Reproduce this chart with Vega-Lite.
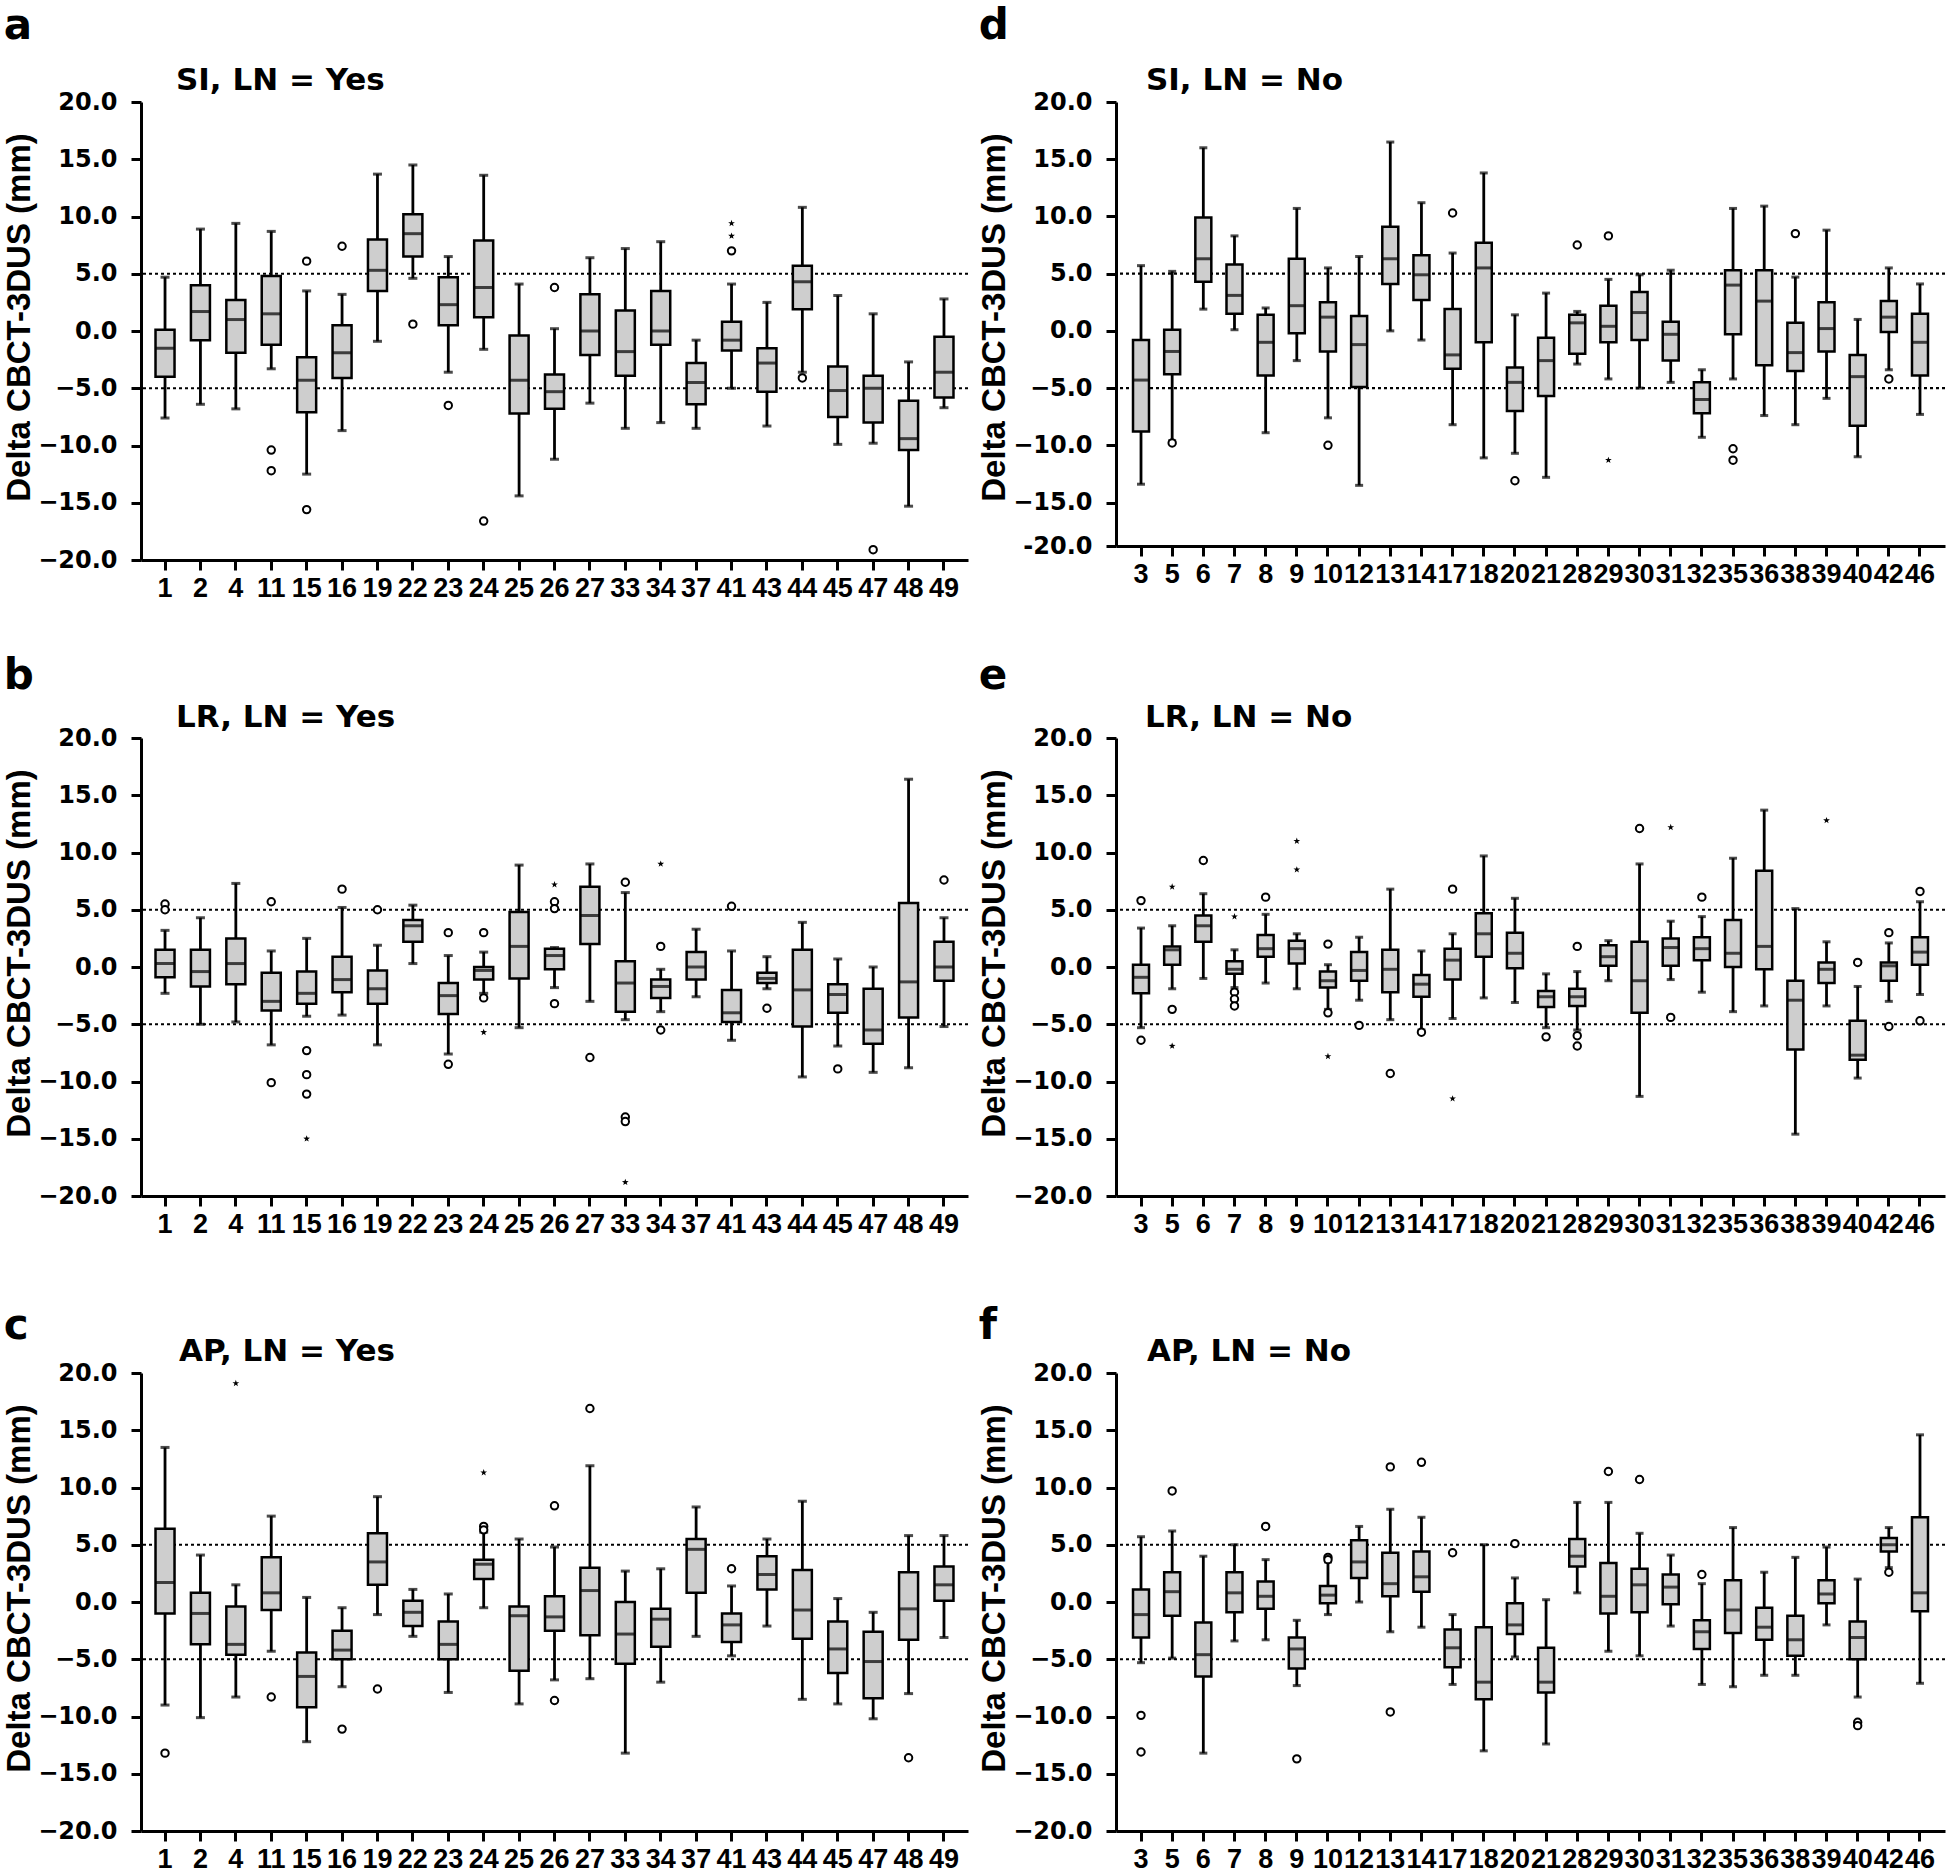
{
"$schema": "https://vega.github.io/schema/vega-lite/v6.json",
"padding": {"left": 3, "top": 5, "right": 0, "bottom": 0},
"datasets": {
"ref": [{"r": 5}, {"r": -5}],
"box": [
{"p":"a","s":1,"lo":-7.6,"q1":-4.0,"md":-1.5,"q3":0.1,"hi":4.7},
{"p":"a","s":2,"lo":-6.4,"q1":-0.8,"md":1.7,"q3":4.0,"hi":8.9},
{"p":"a","s":4,"lo":-6.8,"q1":-1.9,"md":1.0,"q3":2.7,"hi":9.4},
{"p":"a","s":11,"lo":-3.3,"q1":-1.2,"md":1.5,"q3":4.8,"hi":8.7},
{"p":"a","s":15,"lo":-12.5,"q1":-7.1,"md":-4.3,"q3":-2.3,"hi":3.5},
{"p":"a","s":16,"lo":-8.7,"q1":-4.1,"md":-1.9,"q3":0.5,"hi":3.2},
{"p":"a","s":19,"lo":-0.9,"q1":3.5,"md":5.3,"q3":8.0,"hi":13.7},
{"p":"a","s":22,"lo":4.6,"q1":6.5,"md":8.5,"q3":10.2,"hi":14.5},
{"p":"a","s":23,"lo":-3.6,"q1":0.5,"md":2.3,"q3":4.7,"hi":6.5},
{"p":"a","s":24,"lo":-1.6,"q1":1.2,"md":3.8,"q3":7.9,"hi":13.6},
{"p":"a","s":25,"lo":-14.4,"q1":-7.2,"md":-4.3,"q3":-0.4,"hi":4.1},
{"p":"a","s":26,"lo":-11.2,"q1":-6.8,"md":-5.3,"q3":-3.8,"hi":0.2},
{"p":"a","s":27,"lo":-6.3,"q1":-2.1,"md":0.0,"q3":3.2,"hi":6.4},
{"p":"a","s":33,"lo":-8.5,"q1":-3.9,"md":-1.8,"q3":1.8,"hi":7.2},
{"p":"a","s":34,"lo":-8.0,"q1":-1.2,"md":0.0,"q3":3.5,"hi":7.8},
{"p":"a","s":37,"lo":-8.5,"q1":-6.4,"md":-4.5,"q3":-2.8,"hi":-0.8},
{"p":"a","s":41,"lo":-5.0,"q1":-1.7,"md":-0.8,"q3":0.8,"hi":4.1},
{"p":"a","s":43,"lo":-8.3,"q1":-5.3,"md":-2.8,"q3":-1.5,"hi":2.5},
{"p":"a","s":44,"lo":-3.6,"q1":1.9,"md":4.3,"q3":5.7,"hi":10.8},
{"p":"a","s":45,"lo":-9.9,"q1":-7.5,"md":-5.2,"q3":-3.1,"hi":3.1},
{"p":"a","s":47,"lo":-9.8,"q1":-8.0,"md":-5.0,"q3":-3.9,"hi":1.5},
{"p":"a","s":48,"lo":-15.3,"q1":-10.4,"md":-9.4,"q3":-6.1,"hi":-2.7},
{"p":"a","s":49,"lo":-6.7,"q1":-5.8,"md":-3.6,"q3":-0.5,"hi":2.8},
{"p":"b","s":1,"lo":-2.3,"q1":-0.9,"md":0.3,"q3":1.5,"hi":3.2},
{"p":"b","s":2,"lo":-5.0,"q1":-1.7,"md":-0.4,"q3":1.5,"hi":4.3},
{"p":"b","s":4,"lo":-4.8,"q1":-1.5,"md":0.3,"q3":2.5,"hi":7.3},
{"p":"b","s":11,"lo":-6.8,"q1":-3.8,"md":-3.0,"q3":-0.5,"hi":1.4},
{"p":"b","s":15,"lo":-4.3,"q1":-3.2,"md":-2.3,"q3":-0.4,"hi":2.5},
{"p":"b","s":16,"lo":-4.2,"q1":-2.2,"md":-1.1,"q3":0.9,"hi":5.2},
{"p":"b","s":19,"lo":-6.8,"q1":-3.2,"md":-1.9,"q3":-0.3,"hi":1.9},
{"p":"b","s":22,"lo":0.3,"q1":2.2,"md":3.6,"q3":4.1,"hi":5.4},
{"p":"b","s":23,"lo":-7.6,"q1":-4.1,"md":-2.5,"q3":-1.4,"hi":1.0},
{"p":"b","s":24,"lo":-2.3,"q1":-1.1,"md":-0.3,"q3":0.0,"hi":1.3},
{"p":"b","s":25,"lo":-5.3,"q1":-1.0,"md":1.8,"q3":4.8,"hi":8.9},
{"p":"b","s":26,"lo":-1.8,"q1":-0.2,"md":1.0,"q3":1.6,"hi":1.7},
{"p":"b","s":27,"lo":-3.0,"q1":2.0,"md":4.5,"q3":7.0,"hi":9.0},
{"p":"b","s":33,"lo":-4.6,"q1":-3.9,"md":-1.4,"q3":0.5,"hi":6.5},
{"p":"b","s":34,"lo":-3.9,"q1":-2.7,"md":-1.7,"q3":-1.1,"hi":-0.2},
{"p":"b","s":37,"lo":-2.6,"q1":-1.1,"md":0.0,"q3":1.3,"hi":3.3},
{"p":"b","s":41,"lo":-6.4,"q1":-4.8,"md":-4.0,"q3":-2.0,"hi":1.4},
{"p":"b","s":43,"lo":-1.9,"q1":-1.4,"md":-1.0,"q3":-0.5,"hi":0.9},
{"p":"b","s":44,"lo":-9.6,"q1":-5.2,"md":-2.0,"q3":1.5,"hi":3.9},
{"p":"b","s":45,"lo":-6.9,"q1":-4.0,"md":-2.4,"q3":-1.5,"hi":0.7},
{"p":"b","s":47,"lo":-9.2,"q1":-6.7,"md":-5.5,"q3":-1.9,"hi":0.0},
{"p":"b","s":48,"lo":-8.8,"q1":-4.4,"md":-1.3,"q3":5.6,"hi":16.4},
{"p":"b","s":49,"lo":-5.2,"q1":-1.2,"md":0.0,"q3":2.2,"hi":4.3},
{"p":"c","s":1,"lo":-9.0,"q1":-1.0,"md":1.7,"q3":6.4,"hi":13.5},
{"p":"c","s":2,"lo":-10.1,"q1":-3.7,"md":-1.0,"q3":0.8,"hi":4.1},
{"p":"c","s":4,"lo":-8.3,"q1":-4.6,"md":-3.7,"q3":-0.4,"hi":1.5},
{"p":"c","s":11,"lo":-4.3,"q1":-0.7,"md":0.8,"q3":3.9,"hi":7.5},
{"p":"c","s":15,"lo":-12.2,"q1":-9.2,"md":-6.5,"q3":-4.4,"hi":0.4},
{"p":"c","s":16,"lo":-7.4,"q1":-5.0,"md":-4.2,"q3":-2.5,"hi":-0.5},
{"p":"c","s":19,"lo":-1.1,"q1":1.5,"md":3.5,"q3":6.0,"hi":9.2},
{"p":"c","s":22,"lo":-3.0,"q1":-2.1,"md":-0.9,"q3":0.1,"hi":1.1},
{"p":"c","s":23,"lo":-7.9,"q1":-5.0,"md":-3.7,"q3":-1.7,"hi":0.7},
{"p":"c","s":24,"lo":-0.5,"q1":2.0,"md":3.3,"q3":3.7,"hi":6.1},
{"p":"c","s":25,"lo":-8.9,"q1":-6.0,"md":-1.2,"q3":-0.4,"hi":5.5},
{"p":"c","s":26,"lo":-6.8,"q1":-2.5,"md":-1.3,"q3":0.5,"hi":4.8},
{"p":"c","s":27,"lo":-6.7,"q1":-2.9,"md":1.0,"q3":3.0,"hi":11.9},
{"p":"c","s":33,"lo":-13.2,"q1":-5.4,"md":-2.8,"q3":0.0,"hi":2.7},
{"p":"c","s":34,"lo":-7.0,"q1":-3.9,"md":-1.5,"q3":-0.6,"hi":2.9},
{"p":"c","s":37,"lo":-3.0,"q1":0.8,"md":4.6,"q3":5.5,"hi":8.3},
{"p":"c","s":41,"lo":-4.7,"q1":-3.5,"md":-2.0,"q3":-1.0,"hi":1.4},
{"p":"c","s":43,"lo":-2.1,"q1":1.1,"md":2.4,"q3":4.0,"hi":5.5},
{"p":"c","s":44,"lo":-8.5,"q1":-3.2,"md":-0.7,"q3":2.8,"hi":8.8},
{"p":"c","s":45,"lo":-8.9,"q1":-6.2,"md":-4.1,"q3":-1.7,"hi":0.3},
{"p":"c","s":47,"lo":-10.2,"q1":-8.4,"md":-5.2,"q3":-2.6,"hi":-0.9},
{"p":"c","s":48,"lo":-8.0,"q1":-3.3,"md":-0.6,"q3":2.6,"hi":5.8},
{"p":"c","s":49,"lo":-3.1,"q1":0.1,"md":1.5,"q3":3.1,"hi":5.8},
{"p":"d","s":3,"lo":-13.4,"q1":-8.8,"md":-4.3,"q3":-0.8,"hi":5.7},
{"p":"d","s":5,"lo":-9.6,"q1":-3.8,"md":-1.8,"q3":0.1,"hi":5.2},
{"p":"d","s":6,"lo":1.9,"q1":4.3,"md":6.3,"q3":9.9,"hi":16.0},
{"p":"d","s":7,"lo":0.1,"q1":1.5,"md":3.1,"q3":5.8,"hi":8.3},
{"p":"d","s":8,"lo":-8.9,"q1":-3.9,"md":-1.0,"q3":1.4,"hi":2.0},
{"p":"d","s":9,"lo":-2.6,"q1":-0.2,"md":2.2,"q3":6.3,"hi":10.7},
{"p":"d","s":10,"lo":-7.6,"q1":-1.8,"md":1.2,"q3":2.5,"hi":5.5},
{"p":"d","s":12,"lo":-13.5,"q1":-4.9,"md":-1.2,"q3":1.3,"hi":6.5},
{"p":"d","s":13,"lo":0.0,"q1":4.1,"md":6.3,"q3":9.1,"hi":16.5},
{"p":"d","s":14,"lo":-0.8,"q1":2.7,"md":4.9,"q3":6.6,"hi":11.2},
{"p":"d","s":17,"lo":-8.2,"q1":-3.3,"md":-2.1,"q3":1.9,"hi":6.8},
{"p":"d","s":18,"lo":-11.1,"q1":-1.0,"md":5.5,"q3":7.7,"hi":13.8},
{"p":"d","s":20,"lo":-10.7,"q1":-7.0,"md":-4.5,"q3":-3.2,"hi":1.4},
{"p":"d","s":21,"lo":-12.8,"q1":-5.7,"md":-2.6,"q3":-0.6,"hi":3.3},
{"p":"d","s":28,"lo":-2.9,"q1":-2.0,"md":0.7,"q3":1.4,"hi":1.7},
{"p":"d","s":29,"lo":-4.2,"q1":-1.0,"md":0.4,"q3":2.2,"hi":4.5},
{"p":"d","s":30,"lo":-5.0,"q1":-0.8,"md":1.6,"q3":3.4,"hi":4.9},
{"p":"d","s":31,"lo":-4.5,"q1":-2.6,"md":-0.3,"q3":0.8,"hi":5.3},
{"p":"d","s":32,"lo":-9.3,"q1":-7.2,"md":-6.0,"q3":-4.5,"hi":-3.4},
{"p":"d","s":35,"lo":-4.2,"q1":-0.3,"md":4.0,"q3":5.3,"hi":10.7},
{"p":"d","s":36,"lo":-7.4,"q1":-3.0,"md":2.6,"q3":5.3,"hi":10.9},
{"p":"d","s":38,"lo":-8.2,"q1":-3.5,"md":-1.9,"q3":0.7,"hi":4.7},
{"p":"d","s":39,"lo":-5.9,"q1":-1.8,"md":0.2,"q3":2.5,"hi":8.8},
{"p":"d","s":40,"lo":-11.0,"q1":-8.3,"md":-4.0,"q3":-2.1,"hi":1.0},
{"p":"d","s":42,"lo":-3.4,"q1":-0.1,"md":1.2,"q3":2.6,"hi":5.5},
{"p":"d","s":46,"lo":-7.3,"q1":-3.9,"md":-1.0,"q3":1.5,"hi":4.1},
{"p":"e","s":3,"lo":-5.3,"q1":-2.3,"md":-0.9,"q3":0.2,"hi":3.4},
{"p":"e","s":5,"lo":-1.9,"q1":0.2,"md":1.5,"q3":1.8,"hi":3.6},
{"p":"e","s":6,"lo":-1.0,"q1":2.2,"md":3.6,"q3":4.5,"hi":6.4},
{"p":"e","s":7,"lo":-1.8,"q1":-0.6,"md":-0.2,"q3":0.5,"hi":1.5},
{"p":"e","s":8,"lo":-1.4,"q1":0.9,"md":1.6,"q3":2.8,"hi":4.6},
{"p":"e","s":9,"lo":-1.9,"q1":0.3,"md":1.6,"q3":2.3,"hi":2.9},
{"p":"e","s":10,"lo":-3.7,"q1":-1.8,"md":-1.2,"q3":-0.4,"hi":0.2},
{"p":"e","s":12,"lo":-2.9,"q1":-1.2,"md":-0.3,"q3":1.3,"hi":2.6},
{"p":"e","s":13,"lo":-4.6,"q1":-2.2,"md":-0.2,"q3":1.5,"hi":6.8},
{"p":"e","s":14,"lo":-5.5,"q1":-2.6,"md":-1.5,"q3":-0.7,"hi":1.4},
{"p":"e","s":17,"lo":-4.5,"q1":-1.1,"md":0.6,"q3":1.6,"hi":2.9},
{"p":"e","s":18,"lo":-2.7,"q1":0.9,"md":2.9,"q3":4.7,"hi":9.7},
{"p":"e","s":20,"lo":-3.1,"q1":-0.1,"md":1.2,"q3":3.0,"hi":6.0},
{"p":"e","s":21,"lo":-5.3,"q1":-3.5,"md":-2.6,"q3":-2.1,"hi":-0.6},
{"p":"e","s":28,"lo":-5.5,"q1":-3.4,"md":-2.6,"q3":-1.9,"hi":-0.4},
{"p":"e","s":29,"lo":-1.2,"q1":0.1,"md":0.9,"q3":1.9,"hi":2.3},
{"p":"e","s":30,"lo":-11.3,"q1":-4.0,"md":-1.2,"q3":2.2,"hi":9.0},
{"p":"e","s":31,"lo":-1.1,"q1":0.1,"md":1.7,"q3":2.5,"hi":4.0},
{"p":"e","s":32,"lo":-2.2,"q1":0.6,"md":1.6,"q3":2.6,"hi":4.4},
{"p":"e","s":35,"lo":-3.9,"q1":0.0,"md":1.2,"q3":4.1,"hi":9.5},
{"p":"e","s":36,"lo":-3.4,"q1":-0.2,"md":1.8,"q3":8.4,"hi":13.7},
{"p":"e","s":38,"lo":-14.6,"q1":-7.2,"md":-2.9,"q3":-1.2,"hi":5.1},
{"p":"e","s":39,"lo":-3.4,"q1":-1.4,"md":-0.2,"q3":0.4,"hi":2.2},
{"p":"e","s":40,"lo":-9.7,"q1":-8.1,"md":-7.7,"q3":-4.7,"hi":-1.7},
{"p":"e","s":42,"lo":-3.0,"q1":-1.2,"md":0.1,"q3":0.4,"hi":2.1},
{"p":"e","s":46,"lo":-2.4,"q1":0.2,"md":1.3,"q3":2.6,"hi":5.7},
{"p":"f","s":3,"lo":-5.3,"q1":-3.1,"md":-1.1,"q3":1.1,"hi":5.7},
{"p":"f","s":5,"lo":-4.9,"q1":-1.2,"md":0.9,"q3":2.6,"hi":6.2},
{"p":"f","s":6,"lo":-13.2,"q1":-6.5,"md":-4.6,"q3":-1.8,"hi":4.0},
{"p":"f","s":7,"lo":-3.4,"q1":-0.9,"md":0.8,"q3":2.6,"hi":5.0},
{"p":"f","s":8,"lo":-3.3,"q1":-0.6,"md":0.5,"q3":1.8,"hi":3.7},
{"p":"f","s":9,"lo":-7.3,"q1":-5.8,"md":-4.1,"q3":-3.1,"hi":-1.6},
{"p":"f","s":10,"lo":-1.1,"q1":-0.1,"md":0.6,"q3":1.4,"hi":3.5},
{"p":"f","s":12,"lo":0.0,"q1":2.1,"md":3.5,"q3":5.4,"hi":6.6},
{"p":"f","s":13,"lo":-2.6,"q1":0.5,"md":1.6,"q3":4.3,"hi":8.1},
{"p":"f","s":14,"lo":-2.2,"q1":0.9,"md":2.2,"q3":4.4,"hi":7.4},
{"p":"f","s":17,"lo":-7.2,"q1":-5.7,"md":-4.0,"q3":-2.4,"hi":-1.1},
{"p":"f","s":18,"lo":-13.0,"q1":-8.5,"md":-7.0,"q3":-2.2,"hi":5.0},
{"p":"f","s":20,"lo":-4.8,"q1":-2.8,"md":-2.0,"q3":-0.1,"hi":2.1},
{"p":"f","s":21,"lo":-12.4,"q1":-7.9,"md":-7.0,"q3":-4.0,"hi":0.2},
{"p":"f","s":28,"lo":0.8,"q1":3.1,"md":4.0,"q3":5.5,"hi":8.7},
{"p":"f","s":29,"lo":-4.3,"q1":-1.0,"md":0.5,"q3":3.4,"hi":8.7},
{"p":"f","s":30,"lo":-4.7,"q1":-0.9,"md":1.5,"q3":2.9,"hi":6.0},
{"p":"f","s":31,"lo":-2.1,"q1":-0.2,"md":1.3,"q3":2.4,"hi":4.1},
{"p":"f","s":32,"lo":-7.2,"q1":-4.1,"md":-2.6,"q3":-1.6,"hi":1.6},
{"p":"f","s":35,"lo":-7.4,"q1":-2.7,"md":-0.7,"q3":1.9,"hi":6.5},
{"p":"f","s":36,"lo":-6.4,"q1":-3.3,"md":-2.2,"q3":-0.5,"hi":2.6},
{"p":"f","s":38,"lo":-6.4,"q1":-4.7,"md":-3.3,"q3":-1.2,"hi":3.9},
{"p":"f","s":39,"lo":-2.0,"q1":-0.1,"md":0.7,"q3":1.9,"hi":4.8},
{"p":"f","s":40,"lo":-8.3,"q1":-5.0,"md":-3.1,"q3":-1.7,"hi":2.0},
{"p":"f","s":42,"lo":3.0,"q1":4.4,"md":5.0,"q3":5.6,"hi":6.5},
{"p":"f","s":46,"lo":-7.1,"q1":-0.8,"md":0.8,"q3":7.4,"hi":14.6}
],
"out": [
{"p":"a","s":11,"v":-10.4,"k":"o"},{"p":"a","s":11,"v":-12.2,"k":"o"},
{"p":"a","s":15,"v":6.1,"k":"o"},{"p":"a","s":15,"v":-15.6,"k":"o"},
{"p":"a","s":16,"v":7.4,"k":"o"},{"p":"a","s":22,"v":0.6,"k":"o"},
{"p":"a","s":23,"v":-6.5,"k":"o"},{"p":"a","s":24,"v":-16.6,"k":"o"},
{"p":"a","s":26,"v":3.8,"k":"o"},{"p":"a","s":41,"v":7.0,"k":"o"},
{"p":"a","s":41,"v":8.3,"k":"s"},{"p":"a","s":41,"v":9.4,"k":"s"},
{"p":"a","s":44,"v":-4.1,"k":"o"},{"p":"a","s":47,"v":-19.1,"k":"o"},
{"p":"b","s":1,"v":5.5,"k":"o"},{"p":"b","s":1,"v":5.0,"k":"o"},
{"p":"b","s":11,"v":5.7,"k":"o"},{"p":"b","s":11,"v":-10.1,"k":"o"},
{"p":"b","s":15,"v":-7.3,"k":"o"},{"p":"b","s":15,"v":-9.4,"k":"o"},{"p":"b","s":15,"v":-11.1,"k":"o"},{"p":"b","s":15,"v":-15.0,"k":"s"},
{"p":"b","s":16,"v":6.8,"k":"o"},{"p":"b","s":19,"v":5.0,"k":"o"},
{"p":"b","s":23,"v":3.0,"k":"o"},{"p":"b","s":23,"v":-8.5,"k":"o"},
{"p":"b","s":24,"v":3.0,"k":"o"},{"p":"b","s":24,"v":-2.7,"k":"o"},{"p":"b","s":24,"v":-5.7,"k":"s"},
{"p":"b","s":26,"v":7.2,"k":"s"},{"p":"b","s":26,"v":5.7,"k":"o"},{"p":"b","s":26,"v":5.1,"k":"o"},{"p":"b","s":26,"v":-3.2,"k":"o"},
{"p":"b","s":27,"v":-7.9,"k":"o"},
{"p":"b","s":33,"v":7.4,"k":"o"},{"p":"b","s":33,"v":-13.1,"k":"o"},{"p":"b","s":33,"v":-13.5,"k":"o"},{"p":"b","s":33,"v":-18.8,"k":"s"},
{"p":"b","s":34,"v":9.0,"k":"s"},{"p":"b","s":34,"v":1.8,"k":"o"},{"p":"b","s":34,"v":-5.5,"k":"o"},
{"p":"b","s":41,"v":5.3,"k":"o"},{"p":"b","s":43,"v":-3.6,"k":"o"},
{"p":"b","s":45,"v":-8.9,"k":"o"},{"p":"b","s":49,"v":7.6,"k":"o"},
{"p":"c","s":1,"v":-13.2,"k":"o"},{"p":"c","s":4,"v":19.1,"k":"s"},
{"p":"c","s":11,"v":-8.3,"k":"o"},{"p":"c","s":16,"v":-11.1,"k":"o"},
{"p":"c","s":19,"v":-7.6,"k":"o"},
{"p":"c","s":24,"v":6.6,"k":"o"},{"p":"c","s":24,"v":6.3,"k":"o"},{"p":"c","s":24,"v":11.3,"k":"s"},
{"p":"c","s":26,"v":8.4,"k":"o"},{"p":"c","s":26,"v":-8.6,"k":"o"},
{"p":"c","s":27,"v":16.9,"k":"o"},{"p":"c","s":41,"v":2.9,"k":"o"},
{"p":"c","s":48,"v":-13.6,"k":"o"},
{"p":"d","s":5,"v":-9.8,"k":"o"},{"p":"d","s":10,"v":-10.0,"k":"o"},
{"p":"d","s":17,"v":10.3,"k":"o"},{"p":"d","s":20,"v":-13.1,"k":"o"},
{"p":"d","s":28,"v":7.5,"k":"o"},{"p":"d","s":29,"v":8.3,"k":"o"},{"p":"d","s":29,"v":-11.3,"k":"s"},
{"p":"d","s":35,"v":-10.3,"k":"o"},{"p":"d","s":35,"v":-11.3,"k":"o"},
{"p":"d","s":38,"v":8.5,"k":"o"},{"p":"d","s":42,"v":-4.2,"k":"o"},
{"p":"e","s":3,"v":5.8,"k":"o"},{"p":"e","s":3,"v":-6.4,"k":"o"},
{"p":"e","s":5,"v":7.0,"k":"s"},{"p":"e","s":5,"v":-6.9,"k":"s"},{"p":"e","s":5,"v":-3.7,"k":"o"},
{"p":"e","s":6,"v":9.3,"k":"o"},
{"p":"e","s":7,"v":-2.2,"k":"o"},{"p":"e","s":7,"v":-2.8,"k":"o"},{"p":"e","s":7,"v":-3.4,"k":"o"},{"p":"e","s":7,"v":4.4,"k":"s"},
{"p":"e","s":8,"v":6.1,"k":"o"},
{"p":"e","s":9,"v":11.0,"k":"s"},{"p":"e","s":9,"v":8.5,"k":"s"},
{"p":"e","s":10,"v":2.0,"k":"o"},{"p":"e","s":10,"v":-4.0,"k":"o"},{"p":"e","s":10,"v":-7.8,"k":"s"},
{"p":"e","s":12,"v":-5.1,"k":"o"},{"p":"e","s":13,"v":-9.3,"k":"o"},
{"p":"e","s":14,"v":-5.7,"k":"o"},
{"p":"e","s":17,"v":6.8,"k":"o"},{"p":"e","s":17,"v":-11.5,"k":"s"},
{"p":"e","s":21,"v":-6.1,"k":"o"},
{"p":"e","s":28,"v":1.8,"k":"o"},{"p":"e","s":28,"v":-6.0,"k":"o"},{"p":"e","s":28,"v":-6.9,"k":"o"},
{"p":"e","s":30,"v":12.1,"k":"o"},
{"p":"e","s":31,"v":12.2,"k":"s"},{"p":"e","s":31,"v":-4.4,"k":"o"},
{"p":"e","s":32,"v":6.1,"k":"o"},{"p":"e","s":39,"v":12.8,"k":"s"},
{"p":"e","s":40,"v":0.4,"k":"o"},
{"p":"e","s":42,"v":3.0,"k":"o"},{"p":"e","s":42,"v":-5.2,"k":"o"},
{"p":"e","s":46,"v":6.6,"k":"o"},{"p":"e","s":46,"v":-4.7,"k":"o"},
{"p":"f","s":3,"v":-9.9,"k":"o"},{"p":"f","s":3,"v":-13.1,"k":"o"},
{"p":"f","s":5,"v":9.7,"k":"o"},{"p":"f","s":8,"v":6.6,"k":"o"},
{"p":"f","s":9,"v":-13.7,"k":"o"},
{"p":"f","s":10,"v":3.9,"k":"o"},{"p":"f","s":10,"v":3.7,"k":"o"},
{"p":"f","s":13,"v":11.8,"k":"o"},{"p":"f","s":13,"v":-9.6,"k":"o"},
{"p":"f","s":14,"v":12.2,"k":"o"},{"p":"f","s":17,"v":4.3,"k":"o"},
{"p":"f","s":20,"v":5.1,"k":"o"},{"p":"f","s":29,"v":11.4,"k":"o"},
{"p":"f","s":30,"v":10.7,"k":"o"},{"p":"f","s":32,"v":2.4,"k":"o"},
{"p":"f","s":40,"v":-10.5,"k":"o"},{"p":"f","s":40,"v":-10.8,"k":"o"},
{"p":"f","s":42,"v":2.6,"k":"o"}
]
},
"spacing": 54,
"vconcat": [
{"hconcat": [
{"title": {"text": "a", "offset": 17, "fontSize": 42},
 "vconcat": [{"width": 827, "height": 458,
  "title": {"text": "SI, LN = Yes", "frame": "group", "dx": 35, "offset": -7, "fontSize": 31},
  "layer": [
   {"data": {"name": "ref"}, "mark": {"type": "rule", "color": "black", "strokeWidth": 2.2, "strokeDash": [3, 3]}, "encoding": {"y": {"field": "r", "type": "quantitative", "scale": {"domain": [-20, 20], "nice": false, "zero": false}, "axis": {"values": [-20, -15, -10, -5, 0, 5, 10, 15, 20], "format": ".1f", "title": "Delta CBCT-3DUS (mm)"}}}},
   {"data": {"name": "box"}, "transform": [{"filter": "datum.p=='a'"}], "mark": {"type": "rule", "color": "black", "strokeWidth": 2.8}, "encoding": {"x": {"field": "s", "type": "ordinal", "scale": {"type": "band", "paddingInner": 0.463, "paddingOuter": 0.41}, "axis": {"title": null}}, "y": {"field": "lo", "type": "quantitative", "scale": {"domain": [-20, 20], "nice": false, "zero": false}, "axis": {"values": [-20, -15, -10, -5, 0, 5, 10, 15, 20], "format": ".1f", "title": "Delta CBCT-3DUS (mm)"}}, "y2": {"field": "hi"}}},
   {"data": {"name": "box"}, "transform": [{"filter": "datum.p=='a'"}], "mark": {"type": "tick", "color": "black", "size": 9, "thickness": 3}, "encoding": {"x": {"field": "s", "type": "ordinal", "scale": {"type": "band", "paddingInner": 0.463, "paddingOuter": 0.41}, "axis": {"title": null}}, "y": {"field": "lo", "type": "quantitative", "scale": {"domain": [-20, 20], "nice": false, "zero": false}, "axis": {"values": [-20, -15, -10, -5, 0, 5, 10, 15, 20], "format": ".1f", "title": "Delta CBCT-3DUS (mm)"}}}},
   {"data": {"name": "box"}, "transform": [{"filter": "datum.p=='a'"}], "mark": {"type": "tick", "color": "black", "size": 9, "thickness": 3}, "encoding": {"x": {"field": "s", "type": "ordinal", "scale": {"type": "band", "paddingInner": 0.463, "paddingOuter": 0.41}, "axis": {"title": null}}, "y": {"field": "hi", "type": "quantitative", "scale": {"domain": [-20, 20], "nice": false, "zero": false}, "axis": {"values": [-20, -15, -10, -5, 0, 5, 10, 15, 20], "format": ".1f", "title": "Delta CBCT-3DUS (mm)"}}}},
   {"data": {"name": "box"}, "transform": [{"filter": "datum.p=='a'"}], "mark": {"type": "bar", "fill": "#cecece", "stroke": "black", "strokeWidth": 2.5}, "encoding": {"x": {"field": "s", "type": "ordinal", "scale": {"type": "band", "paddingInner": 0.463, "paddingOuter": 0.41}, "axis": {"title": null}}, "y": {"field": "q1", "type": "quantitative", "scale": {"domain": [-20, 20], "nice": false, "zero": false}, "axis": {"values": [-20, -15, -10, -5, 0, 5, 10, 15, 20], "format": ".1f", "title": "Delta CBCT-3DUS (mm)"}}, "y2": {"field": "q3"}}},
   {"data": {"name": "box"}, "transform": [{"filter": "datum.p=='a'"}], "mark": {"type": "tick", "color": "black", "size": 19, "thickness": 3}, "encoding": {"x": {"field": "s", "type": "ordinal", "scale": {"type": "band", "paddingInner": 0.463, "paddingOuter": 0.41}, "axis": {"title": null}}, "y": {"field": "md", "type": "quantitative", "scale": {"domain": [-20, 20], "nice": false, "zero": false}, "axis": {"values": [-20, -15, -10, -5, 0, 5, 10, 15, 20], "format": ".1f", "title": "Delta CBCT-3DUS (mm)"}}}},
   {"data": {"name": "out"}, "transform": [{"filter": "datum.p=='a' && datum.k=='o'"}], "mark": {"type": "point", "shape": "circle", "filled": true, "fill": "white", "stroke": "black", "strokeWidth": 2, "size": 55, "opacity": 1}, "encoding": {"x": {"field": "s", "type": "ordinal", "scale": {"type": "band", "paddingInner": 0.463, "paddingOuter": 0.41}, "axis": {"title": null}}, "y": {"field": "v", "type": "quantitative", "scale": {"domain": [-20, 20], "nice": false, "zero": false}, "axis": {"values": [-20, -15, -10, -5, 0, 5, 10, 15, 20], "format": ".1f", "title": "Delta CBCT-3DUS (mm)"}}}},
   {"data": {"name": "out"}, "transform": [{"filter": "datum.p=='a' && datum.k=='s'"}], "mark": {"type": "point", "shape": "M0,-1L0.235,-0.324L0.951,-0.309L0.38,0.124L0.588,0.809L0,0.4L-0.588,0.809L-0.38,0.124L-0.951,-0.309L-0.235,-0.324Z", "filled": true, "color": "black", "size": 50, "opacity": 1}, "encoding": {"x": {"field": "s", "type": "ordinal", "scale": {"type": "band", "paddingInner": 0.463, "paddingOuter": 0.41}, "axis": {"title": null}}, "y": {"field": "v", "type": "quantitative", "scale": {"domain": [-20, 20], "nice": false, "zero": false}, "axis": {"values": [-20, -15, -10, -5, 0, 5, 10, 15, 20], "format": ".1f", "title": "Delta CBCT-3DUS (mm)"}}}}
  ]}]},
{"title": {"text": "d", "offset": 17, "fontSize": 42},
 "vconcat": [{"width": 829, "height": 444,
  "title": {"text": "SI, LN = No", "frame": "group", "dx": 30, "offset": -7, "fontSize": 31},
  "layer": [
   {"data": {"name": "ref"}, "mark": {"type": "rule", "color": "black", "strokeWidth": 2.2, "strokeDash": [3, 3]}, "encoding": {"y": {"field": "r", "type": "quantitative", "scale": {"domain": [-18.8, 20], "nice": false, "zero": false}, "axis": {"values": [-18.8, -15, -10, -5, 0, 5, 10, 15, 20], "labelExpr": "datum.value < -18 ? '-20.0' : format(datum.value, '.1f')", "title": "Delta CBCT-3DUS (mm)"}}}},
   {"data": {"name": "box"}, "transform": [{"filter": "datum.p=='d'"}], "mark": {"type": "rule", "color": "black", "strokeWidth": 2.8}, "encoding": {"x": {"field": "s", "type": "ordinal", "scale": {"type": "band", "paddingInner": 0.487, "paddingOuter": 0.546}, "axis": {"title": null}}, "y": {"field": "lo", "type": "quantitative", "scale": {"domain": [-18.8, 20], "nice": false, "zero": false}, "axis": {"values": [-18.8, -15, -10, -5, 0, 5, 10, 15, 20], "labelExpr": "datum.value < -18 ? '-20.0' : format(datum.value, '.1f')", "title": "Delta CBCT-3DUS (mm)"}}, "y2": {"field": "hi"}}},
   {"data": {"name": "box"}, "transform": [{"filter": "datum.p=='d'"}], "mark": {"type": "tick", "color": "black", "size": 8, "thickness": 3}, "encoding": {"x": {"field": "s", "type": "ordinal", "scale": {"type": "band", "paddingInner": 0.487, "paddingOuter": 0.546}, "axis": {"title": null}}, "y": {"field": "lo", "type": "quantitative", "scale": {"domain": [-18.8, 20], "nice": false, "zero": false}, "axis": {"values": [-18.8, -15, -10, -5, 0, 5, 10, 15, 20], "labelExpr": "datum.value < -18 ? '-20.0' : format(datum.value, '.1f')", "title": "Delta CBCT-3DUS (mm)"}}}},
   {"data": {"name": "box"}, "transform": [{"filter": "datum.p=='d'"}], "mark": {"type": "tick", "color": "black", "size": 8, "thickness": 3}, "encoding": {"x": {"field": "s", "type": "ordinal", "scale": {"type": "band", "paddingInner": 0.487, "paddingOuter": 0.546}, "axis": {"title": null}}, "y": {"field": "hi", "type": "quantitative", "scale": {"domain": [-18.8, 20], "nice": false, "zero": false}, "axis": {"values": [-18.8, -15, -10, -5, 0, 5, 10, 15, 20], "labelExpr": "datum.value < -18 ? '-20.0' : format(datum.value, '.1f')", "title": "Delta CBCT-3DUS (mm)"}}}},
   {"data": {"name": "box"}, "transform": [{"filter": "datum.p=='d'"}], "mark": {"type": "bar", "fill": "#cecece", "stroke": "black", "strokeWidth": 2.5}, "encoding": {"x": {"field": "s", "type": "ordinal", "scale": {"type": "band", "paddingInner": 0.487, "paddingOuter": 0.546}, "axis": {"title": null}}, "y": {"field": "q1", "type": "quantitative", "scale": {"domain": [-18.8, 20], "nice": false, "zero": false}, "axis": {"values": [-18.8, -15, -10, -5, 0, 5, 10, 15, 20], "labelExpr": "datum.value < -18 ? '-20.0' : format(datum.value, '.1f')", "title": "Delta CBCT-3DUS (mm)"}}, "y2": {"field": "q3"}}},
   {"data": {"name": "box"}, "transform": [{"filter": "datum.p=='d'"}], "mark": {"type": "tick", "color": "black", "size": 16, "thickness": 3}, "encoding": {"x": {"field": "s", "type": "ordinal", "scale": {"type": "band", "paddingInner": 0.487, "paddingOuter": 0.546}, "axis": {"title": null}}, "y": {"field": "md", "type": "quantitative", "scale": {"domain": [-18.8, 20], "nice": false, "zero": false}, "axis": {"values": [-18.8, -15, -10, -5, 0, 5, 10, 15, 20], "labelExpr": "datum.value < -18 ? '-20.0' : format(datum.value, '.1f')", "title": "Delta CBCT-3DUS (mm)"}}}},
   {"data": {"name": "out"}, "transform": [{"filter": "datum.p=='d' && datum.k=='o'"}], "mark": {"type": "point", "shape": "circle", "filled": true, "fill": "white", "stroke": "black", "strokeWidth": 2, "size": 55, "opacity": 1}, "encoding": {"x": {"field": "s", "type": "ordinal", "scale": {"type": "band", "paddingInner": 0.487, "paddingOuter": 0.546}, "axis": {"title": null}}, "y": {"field": "v", "type": "quantitative", "scale": {"domain": [-18.8, 20], "nice": false, "zero": false}, "axis": {"values": [-18.8, -15, -10, -5, 0, 5, 10, 15, 20], "labelExpr": "datum.value < -18 ? '-20.0' : format(datum.value, '.1f')", "title": "Delta CBCT-3DUS (mm)"}}}},
   {"data": {"name": "out"}, "transform": [{"filter": "datum.p=='d' && datum.k=='s'"}], "mark": {"type": "point", "shape": "M0,-1L0.235,-0.324L0.951,-0.309L0.38,0.124L0.588,0.809L0,0.4L-0.588,0.809L-0.38,0.124L-0.951,-0.309L-0.235,-0.324Z", "filled": true, "color": "black", "size": 50, "opacity": 1}, "encoding": {"x": {"field": "s", "type": "ordinal", "scale": {"type": "band", "paddingInner": 0.487, "paddingOuter": 0.546}, "axis": {"title": null}}, "y": {"field": "v", "type": "quantitative", "scale": {"domain": [-18.8, 20], "nice": false, "zero": false}, "axis": {"values": [-18.8, -15, -10, -5, 0, 5, 10, 15, 20], "labelExpr": "datum.value < -18 ? '-20.0' : format(datum.value, '.1f')", "title": "Delta CBCT-3DUS (mm)"}}}}
  ]}]}
], "spacing": 8},
{"spacing": 68, "vconcat": [
{"hconcat": [
{"title": {"text": "b", "offset": 4, "fontSize": 42},
 "vconcat": [{"width": 827, "height": 458,
  "title": {"text": "LR, LN = Yes", "frame": "group", "dx": 35, "offset": -8, "fontSize": 31},
  "layer": [
   {"data": {"name": "ref"}, "mark": {"type": "rule", "color": "black", "strokeWidth": 2.2, "strokeDash": [3, 3]}, "encoding": {"y": {"field": "r", "type": "quantitative", "scale": {"domain": [-20, 20], "nice": false, "zero": false}, "axis": {"values": [-20, -15, -10, -5, 0, 5, 10, 15, 20], "format": ".1f", "title": "Delta CBCT-3DUS (mm)"}}}},
   {"data": {"name": "box"}, "transform": [{"filter": "datum.p=='b'"}], "mark": {"type": "rule", "color": "black", "strokeWidth": 2.8}, "encoding": {"x": {"field": "s", "type": "ordinal", "scale": {"type": "band", "paddingInner": 0.463, "paddingOuter": 0.41}, "axis": {"title": null}}, "y": {"field": "lo", "type": "quantitative", "scale": {"domain": [-20, 20], "nice": false, "zero": false}, "axis": {"values": [-20, -15, -10, -5, 0, 5, 10, 15, 20], "format": ".1f", "title": "Delta CBCT-3DUS (mm)"}}, "y2": {"field": "hi"}}},
   {"data": {"name": "box"}, "transform": [{"filter": "datum.p=='b'"}], "mark": {"type": "tick", "color": "black", "size": 9, "thickness": 3}, "encoding": {"x": {"field": "s", "type": "ordinal", "scale": {"type": "band", "paddingInner": 0.463, "paddingOuter": 0.41}, "axis": {"title": null}}, "y": {"field": "lo", "type": "quantitative", "scale": {"domain": [-20, 20], "nice": false, "zero": false}, "axis": {"values": [-20, -15, -10, -5, 0, 5, 10, 15, 20], "format": ".1f", "title": "Delta CBCT-3DUS (mm)"}}}},
   {"data": {"name": "box"}, "transform": [{"filter": "datum.p=='b'"}], "mark": {"type": "tick", "color": "black", "size": 9, "thickness": 3}, "encoding": {"x": {"field": "s", "type": "ordinal", "scale": {"type": "band", "paddingInner": 0.463, "paddingOuter": 0.41}, "axis": {"title": null}}, "y": {"field": "hi", "type": "quantitative", "scale": {"domain": [-20, 20], "nice": false, "zero": false}, "axis": {"values": [-20, -15, -10, -5, 0, 5, 10, 15, 20], "format": ".1f", "title": "Delta CBCT-3DUS (mm)"}}}},
   {"data": {"name": "box"}, "transform": [{"filter": "datum.p=='b'"}], "mark": {"type": "bar", "fill": "#cecece", "stroke": "black", "strokeWidth": 2.5}, "encoding": {"x": {"field": "s", "type": "ordinal", "scale": {"type": "band", "paddingInner": 0.463, "paddingOuter": 0.41}, "axis": {"title": null}}, "y": {"field": "q1", "type": "quantitative", "scale": {"domain": [-20, 20], "nice": false, "zero": false}, "axis": {"values": [-20, -15, -10, -5, 0, 5, 10, 15, 20], "format": ".1f", "title": "Delta CBCT-3DUS (mm)"}}, "y2": {"field": "q3"}}},
   {"data": {"name": "box"}, "transform": [{"filter": "datum.p=='b'"}], "mark": {"type": "tick", "color": "black", "size": 19, "thickness": 3}, "encoding": {"x": {"field": "s", "type": "ordinal", "scale": {"type": "band", "paddingInner": 0.463, "paddingOuter": 0.41}, "axis": {"title": null}}, "y": {"field": "md", "type": "quantitative", "scale": {"domain": [-20, 20], "nice": false, "zero": false}, "axis": {"values": [-20, -15, -10, -5, 0, 5, 10, 15, 20], "format": ".1f", "title": "Delta CBCT-3DUS (mm)"}}}},
   {"data": {"name": "out"}, "transform": [{"filter": "datum.p=='b' && datum.k=='o'"}], "mark": {"type": "point", "shape": "circle", "filled": true, "fill": "white", "stroke": "black", "strokeWidth": 2, "size": 55, "opacity": 1}, "encoding": {"x": {"field": "s", "type": "ordinal", "scale": {"type": "band", "paddingInner": 0.463, "paddingOuter": 0.41}, "axis": {"title": null}}, "y": {"field": "v", "type": "quantitative", "scale": {"domain": [-20, 20], "nice": false, "zero": false}, "axis": {"values": [-20, -15, -10, -5, 0, 5, 10, 15, 20], "format": ".1f", "title": "Delta CBCT-3DUS (mm)"}}}},
   {"data": {"name": "out"}, "transform": [{"filter": "datum.p=='b' && datum.k=='s'"}], "mark": {"type": "point", "shape": "M0,-1L0.235,-0.324L0.951,-0.309L0.38,0.124L0.588,0.809L0,0.4L-0.588,0.809L-0.38,0.124L-0.951,-0.309L-0.235,-0.324Z", "filled": true, "color": "black", "size": 50, "opacity": 1}, "encoding": {"x": {"field": "s", "type": "ordinal", "scale": {"type": "band", "paddingInner": 0.463, "paddingOuter": 0.41}, "axis": {"title": null}}, "y": {"field": "v", "type": "quantitative", "scale": {"domain": [-20, 20], "nice": false, "zero": false}, "axis": {"values": [-20, -15, -10, -5, 0, 5, 10, 15, 20], "format": ".1f", "title": "Delta CBCT-3DUS (mm)"}}}}
  ]}]},
{"title": {"text": "e", "offset": 4, "fontSize": 42},
 "vconcat": [{"width": 829, "height": 458,
  "title": {"text": "LR, LN = No", "frame": "group", "dx": 29, "offset": -8, "fontSize": 31},
  "layer": [
   {"data": {"name": "ref"}, "mark": {"type": "rule", "color": "black", "strokeWidth": 2.2, "strokeDash": [3, 3]}, "encoding": {"y": {"field": "r", "type": "quantitative", "scale": {"domain": [-20, 20], "nice": false, "zero": false}, "axis": {"values": [-20, -15, -10, -5, 0, 5, 10, 15, 20], "format": ".1f", "title": "Delta CBCT-3DUS (mm)"}}}},
   {"data": {"name": "box"}, "transform": [{"filter": "datum.p=='e'"}], "mark": {"type": "rule", "color": "black", "strokeWidth": 2.8}, "encoding": {"x": {"field": "s", "type": "ordinal", "scale": {"type": "band", "paddingInner": 0.487, "paddingOuter": 0.546}, "axis": {"title": null}}, "y": {"field": "lo", "type": "quantitative", "scale": {"domain": [-20, 20], "nice": false, "zero": false}, "axis": {"values": [-20, -15, -10, -5, 0, 5, 10, 15, 20], "format": ".1f", "title": "Delta CBCT-3DUS (mm)"}}, "y2": {"field": "hi"}}},
   {"data": {"name": "box"}, "transform": [{"filter": "datum.p=='e'"}], "mark": {"type": "tick", "color": "black", "size": 8, "thickness": 3}, "encoding": {"x": {"field": "s", "type": "ordinal", "scale": {"type": "band", "paddingInner": 0.487, "paddingOuter": 0.546}, "axis": {"title": null}}, "y": {"field": "lo", "type": "quantitative", "scale": {"domain": [-20, 20], "nice": false, "zero": false}, "axis": {"values": [-20, -15, -10, -5, 0, 5, 10, 15, 20], "format": ".1f", "title": "Delta CBCT-3DUS (mm)"}}}},
   {"data": {"name": "box"}, "transform": [{"filter": "datum.p=='e'"}], "mark": {"type": "tick", "color": "black", "size": 8, "thickness": 3}, "encoding": {"x": {"field": "s", "type": "ordinal", "scale": {"type": "band", "paddingInner": 0.487, "paddingOuter": 0.546}, "axis": {"title": null}}, "y": {"field": "hi", "type": "quantitative", "scale": {"domain": [-20, 20], "nice": false, "zero": false}, "axis": {"values": [-20, -15, -10, -5, 0, 5, 10, 15, 20], "format": ".1f", "title": "Delta CBCT-3DUS (mm)"}}}},
   {"data": {"name": "box"}, "transform": [{"filter": "datum.p=='e'"}], "mark": {"type": "bar", "fill": "#cecece", "stroke": "black", "strokeWidth": 2.5}, "encoding": {"x": {"field": "s", "type": "ordinal", "scale": {"type": "band", "paddingInner": 0.487, "paddingOuter": 0.546}, "axis": {"title": null}}, "y": {"field": "q1", "type": "quantitative", "scale": {"domain": [-20, 20], "nice": false, "zero": false}, "axis": {"values": [-20, -15, -10, -5, 0, 5, 10, 15, 20], "format": ".1f", "title": "Delta CBCT-3DUS (mm)"}}, "y2": {"field": "q3"}}},
   {"data": {"name": "box"}, "transform": [{"filter": "datum.p=='e'"}], "mark": {"type": "tick", "color": "black", "size": 16, "thickness": 3}, "encoding": {"x": {"field": "s", "type": "ordinal", "scale": {"type": "band", "paddingInner": 0.487, "paddingOuter": 0.546}, "axis": {"title": null}}, "y": {"field": "md", "type": "quantitative", "scale": {"domain": [-20, 20], "nice": false, "zero": false}, "axis": {"values": [-20, -15, -10, -5, 0, 5, 10, 15, 20], "format": ".1f", "title": "Delta CBCT-3DUS (mm)"}}}},
   {"data": {"name": "out"}, "transform": [{"filter": "datum.p=='e' && datum.k=='o'"}], "mark": {"type": "point", "shape": "circle", "filled": true, "fill": "white", "stroke": "black", "strokeWidth": 2, "size": 55, "opacity": 1}, "encoding": {"x": {"field": "s", "type": "ordinal", "scale": {"type": "band", "paddingInner": 0.487, "paddingOuter": 0.546}, "axis": {"title": null}}, "y": {"field": "v", "type": "quantitative", "scale": {"domain": [-20, 20], "nice": false, "zero": false}, "axis": {"values": [-20, -15, -10, -5, 0, 5, 10, 15, 20], "format": ".1f", "title": "Delta CBCT-3DUS (mm)"}}}},
   {"data": {"name": "out"}, "transform": [{"filter": "datum.p=='e' && datum.k=='s'"}], "mark": {"type": "point", "shape": "M0,-1L0.235,-0.324L0.951,-0.309L0.38,0.124L0.588,0.809L0,0.4L-0.588,0.809L-0.38,0.124L-0.951,-0.309L-0.235,-0.324Z", "filled": true, "color": "black", "size": 50, "opacity": 1}, "encoding": {"x": {"field": "s", "type": "ordinal", "scale": {"type": "band", "paddingInner": 0.487, "paddingOuter": 0.546}, "axis": {"title": null}}, "y": {"field": "v", "type": "quantitative", "scale": {"domain": [-20, 20], "nice": false, "zero": false}, "axis": {"values": [-20, -15, -10, -5, 0, 5, 10, 15, 20], "format": ".1f", "title": "Delta CBCT-3DUS (mm)"}}}}
  ]}]}
], "spacing": 8},
{"hconcat": [
{"title": {"text": "c", "offset": -12, "fontSize": 42},
 "vconcat": [{"width": 827, "height": 458,
  "title": {"text": "AP, LN = Yes", "frame": "group", "dx": 38, "offset": -7, "fontSize": 31},
  "layer": [
   {"data": {"name": "ref"}, "mark": {"type": "rule", "color": "black", "strokeWidth": 2.2, "strokeDash": [3, 3]}, "encoding": {"y": {"field": "r", "type": "quantitative", "scale": {"domain": [-20, 20], "nice": false, "zero": false}, "axis": {"values": [-20, -15, -10, -5, 0, 5, 10, 15, 20], "format": ".1f", "title": "Delta CBCT-3DUS (mm)"}}}},
   {"data": {"name": "box"}, "transform": [{"filter": "datum.p=='c'"}], "mark": {"type": "rule", "color": "black", "strokeWidth": 2.8}, "encoding": {"x": {"field": "s", "type": "ordinal", "scale": {"type": "band", "paddingInner": 0.463, "paddingOuter": 0.41}, "axis": {"title": null}}, "y": {"field": "lo", "type": "quantitative", "scale": {"domain": [-20, 20], "nice": false, "zero": false}, "axis": {"values": [-20, -15, -10, -5, 0, 5, 10, 15, 20], "format": ".1f", "title": "Delta CBCT-3DUS (mm)"}}, "y2": {"field": "hi"}}},
   {"data": {"name": "box"}, "transform": [{"filter": "datum.p=='c'"}], "mark": {"type": "tick", "color": "black", "size": 9, "thickness": 3}, "encoding": {"x": {"field": "s", "type": "ordinal", "scale": {"type": "band", "paddingInner": 0.463, "paddingOuter": 0.41}, "axis": {"title": null}}, "y": {"field": "lo", "type": "quantitative", "scale": {"domain": [-20, 20], "nice": false, "zero": false}, "axis": {"values": [-20, -15, -10, -5, 0, 5, 10, 15, 20], "format": ".1f", "title": "Delta CBCT-3DUS (mm)"}}}},
   {"data": {"name": "box"}, "transform": [{"filter": "datum.p=='c'"}], "mark": {"type": "tick", "color": "black", "size": 9, "thickness": 3}, "encoding": {"x": {"field": "s", "type": "ordinal", "scale": {"type": "band", "paddingInner": 0.463, "paddingOuter": 0.41}, "axis": {"title": null}}, "y": {"field": "hi", "type": "quantitative", "scale": {"domain": [-20, 20], "nice": false, "zero": false}, "axis": {"values": [-20, -15, -10, -5, 0, 5, 10, 15, 20], "format": ".1f", "title": "Delta CBCT-3DUS (mm)"}}}},
   {"data": {"name": "box"}, "transform": [{"filter": "datum.p=='c'"}], "mark": {"type": "bar", "fill": "#cecece", "stroke": "black", "strokeWidth": 2.5}, "encoding": {"x": {"field": "s", "type": "ordinal", "scale": {"type": "band", "paddingInner": 0.463, "paddingOuter": 0.41}, "axis": {"title": null}}, "y": {"field": "q1", "type": "quantitative", "scale": {"domain": [-20, 20], "nice": false, "zero": false}, "axis": {"values": [-20, -15, -10, -5, 0, 5, 10, 15, 20], "format": ".1f", "title": "Delta CBCT-3DUS (mm)"}}, "y2": {"field": "q3"}}},
   {"data": {"name": "box"}, "transform": [{"filter": "datum.p=='c'"}], "mark": {"type": "tick", "color": "black", "size": 19, "thickness": 3}, "encoding": {"x": {"field": "s", "type": "ordinal", "scale": {"type": "band", "paddingInner": 0.463, "paddingOuter": 0.41}, "axis": {"title": null}}, "y": {"field": "md", "type": "quantitative", "scale": {"domain": [-20, 20], "nice": false, "zero": false}, "axis": {"values": [-20, -15, -10, -5, 0, 5, 10, 15, 20], "format": ".1f", "title": "Delta CBCT-3DUS (mm)"}}}},
   {"data": {"name": "out"}, "transform": [{"filter": "datum.p=='c' && datum.k=='o'"}], "mark": {"type": "point", "shape": "circle", "filled": true, "fill": "white", "stroke": "black", "strokeWidth": 2, "size": 55, "opacity": 1}, "encoding": {"x": {"field": "s", "type": "ordinal", "scale": {"type": "band", "paddingInner": 0.463, "paddingOuter": 0.41}, "axis": {"title": null}}, "y": {"field": "v", "type": "quantitative", "scale": {"domain": [-20, 20], "nice": false, "zero": false}, "axis": {"values": [-20, -15, -10, -5, 0, 5, 10, 15, 20], "format": ".1f", "title": "Delta CBCT-3DUS (mm)"}}}},
   {"data": {"name": "out"}, "transform": [{"filter": "datum.p=='c' && datum.k=='s'"}], "mark": {"type": "point", "shape": "M0,-1L0.235,-0.324L0.951,-0.309L0.38,0.124L0.588,0.809L0,0.4L-0.588,0.809L-0.38,0.124L-0.951,-0.309L-0.235,-0.324Z", "filled": true, "color": "black", "size": 50, "opacity": 1}, "encoding": {"x": {"field": "s", "type": "ordinal", "scale": {"type": "band", "paddingInner": 0.463, "paddingOuter": 0.41}, "axis": {"title": null}}, "y": {"field": "v", "type": "quantitative", "scale": {"domain": [-20, 20], "nice": false, "zero": false}, "axis": {"values": [-20, -15, -10, -5, 0, 5, 10, 15, 20], "format": ".1f", "title": "Delta CBCT-3DUS (mm)"}}}}
  ]}]},
{"title": {"text": "f", "offset": -12, "fontSize": 42},
 "vconcat": [{"width": 829, "height": 458,
  "title": {"text": "AP, LN = No", "frame": "group", "dx": 31, "offset": -7, "fontSize": 31},
  "layer": [
   {"data": {"name": "ref"}, "mark": {"type": "rule", "color": "black", "strokeWidth": 2.2, "strokeDash": [3, 3]}, "encoding": {"y": {"field": "r", "type": "quantitative", "scale": {"domain": [-20, 20], "nice": false, "zero": false}, "axis": {"values": [-20, -15, -10, -5, 0, 5, 10, 15, 20], "format": ".1f", "title": "Delta CBCT-3DUS (mm)"}}}},
   {"data": {"name": "box"}, "transform": [{"filter": "datum.p=='f'"}], "mark": {"type": "rule", "color": "black", "strokeWidth": 2.8}, "encoding": {"x": {"field": "s", "type": "ordinal", "scale": {"type": "band", "paddingInner": 0.487, "paddingOuter": 0.546}, "axis": {"title": null}}, "y": {"field": "lo", "type": "quantitative", "scale": {"domain": [-20, 20], "nice": false, "zero": false}, "axis": {"values": [-20, -15, -10, -5, 0, 5, 10, 15, 20], "format": ".1f", "title": "Delta CBCT-3DUS (mm)"}}, "y2": {"field": "hi"}}},
   {"data": {"name": "box"}, "transform": [{"filter": "datum.p=='f'"}], "mark": {"type": "tick", "color": "black", "size": 8, "thickness": 3}, "encoding": {"x": {"field": "s", "type": "ordinal", "scale": {"type": "band", "paddingInner": 0.487, "paddingOuter": 0.546}, "axis": {"title": null}}, "y": {"field": "lo", "type": "quantitative", "scale": {"domain": [-20, 20], "nice": false, "zero": false}, "axis": {"values": [-20, -15, -10, -5, 0, 5, 10, 15, 20], "format": ".1f", "title": "Delta CBCT-3DUS (mm)"}}}},
   {"data": {"name": "box"}, "transform": [{"filter": "datum.p=='f'"}], "mark": {"type": "tick", "color": "black", "size": 8, "thickness": 3}, "encoding": {"x": {"field": "s", "type": "ordinal", "scale": {"type": "band", "paddingInner": 0.487, "paddingOuter": 0.546}, "axis": {"title": null}}, "y": {"field": "hi", "type": "quantitative", "scale": {"domain": [-20, 20], "nice": false, "zero": false}, "axis": {"values": [-20, -15, -10, -5, 0, 5, 10, 15, 20], "format": ".1f", "title": "Delta CBCT-3DUS (mm)"}}}},
   {"data": {"name": "box"}, "transform": [{"filter": "datum.p=='f'"}], "mark": {"type": "bar", "fill": "#cecece", "stroke": "black", "strokeWidth": 2.5}, "encoding": {"x": {"field": "s", "type": "ordinal", "scale": {"type": "band", "paddingInner": 0.487, "paddingOuter": 0.546}, "axis": {"title": null}}, "y": {"field": "q1", "type": "quantitative", "scale": {"domain": [-20, 20], "nice": false, "zero": false}, "axis": {"values": [-20, -15, -10, -5, 0, 5, 10, 15, 20], "format": ".1f", "title": "Delta CBCT-3DUS (mm)"}}, "y2": {"field": "q3"}}},
   {"data": {"name": "box"}, "transform": [{"filter": "datum.p=='f'"}], "mark": {"type": "tick", "color": "black", "size": 16, "thickness": 3}, "encoding": {"x": {"field": "s", "type": "ordinal", "scale": {"type": "band", "paddingInner": 0.487, "paddingOuter": 0.546}, "axis": {"title": null}}, "y": {"field": "md", "type": "quantitative", "scale": {"domain": [-20, 20], "nice": false, "zero": false}, "axis": {"values": [-20, -15, -10, -5, 0, 5, 10, 15, 20], "format": ".1f", "title": "Delta CBCT-3DUS (mm)"}}}},
   {"data": {"name": "out"}, "transform": [{"filter": "datum.p=='f' && datum.k=='o'"}], "mark": {"type": "point", "shape": "circle", "filled": true, "fill": "white", "stroke": "black", "strokeWidth": 2, "size": 55, "opacity": 1}, "encoding": {"x": {"field": "s", "type": "ordinal", "scale": {"type": "band", "paddingInner": 0.487, "paddingOuter": 0.546}, "axis": {"title": null}}, "y": {"field": "v", "type": "quantitative", "scale": {"domain": [-20, 20], "nice": false, "zero": false}, "axis": {"values": [-20, -15, -10, -5, 0, 5, 10, 15, 20], "format": ".1f", "title": "Delta CBCT-3DUS (mm)"}}}}
  ]}]}
], "spacing": 8}
]}
],
"config": {
 "view": {"stroke": null},
 "font": "DejaVu Sans",
 "axis": {"domainColor": "black", "domainWidth": 3, "tickColor": "black", "tickWidth": 3, "tickSize": 10, "grid": false, "labelColor": "black", "titleColor": "black"},
 "axisY": {"labelFont": "DejaVu Sans", "labelFontSize": 24, "labelFontWeight": "bold", "labelPadding": 14, "titleFont": "Liberation Sans", "titleFontSize": 33, "titleFontWeight": "bold", "titlePadding": 1, "titleY": 215},
 "axisX": {"labelFont": "Liberation Sans", "labelFontSize": 27, "labelFontWeight": "bold", "labelPadding": 5, "labelAngle": 0, "labelOverlap": false},
 "title": {"font": "DejaVu Sans", "fontWeight": "bold", "color": "black", "anchor": "start"}
}
}
